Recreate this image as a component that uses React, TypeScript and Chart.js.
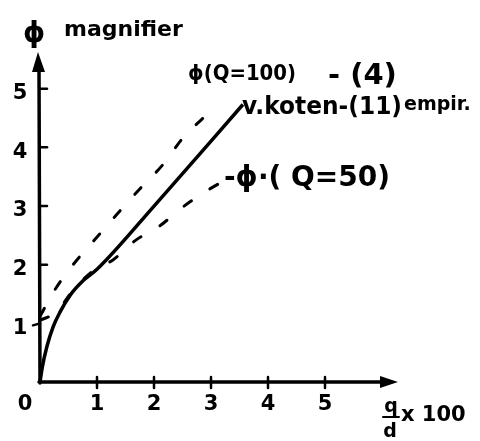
import React, { useEffect, useRef } from "react";
import { Chart, registerables } from "chart.js";

Chart.register(...registerables);

// q/d × 100 against the magnifier ϕ
const kotenX = [0, 0.04, 0.12, 0.23, 0.35, 0.53, 0.75, 1.0, 2.02, 3.56];
const kotenY = [0, 0.25, 0.6, 0.94, 1.19, 1.48, 1.72, 1.92, 3.02, 4.73];

const q100X = [0, 0.26, 0.58, 0.91, 1.35, 1.75, 2.16, 2.5, 2.93, 3.0];
const q100Y = [1.12, 1.57, 2.0, 2.37, 2.86, 3.29, 3.71, 4.15, 4.56, 4.62];

const q50X = [0, 0.3, 0.53, 0.75, 1.0, 1.28, 1.67, 2.1, 2.49, 2.86, 3.3];
const q50Y = [1.05, 1.2, 1.5, 1.74, 1.94, 2.08, 2.41, 2.66, 2.97, 3.22, 3.47];

const xTickValues = [0, 1, 2, 3, 4, 5];
const yTickValues = [1, 2, 3, 4, 5];

const toPoints = (xs: number[], ys: number[]) => xs.map((x, i) => ({ x, y: ys[i] }));

const INK = "#000";
const FONT = '"DejaVu Sans", sans-serif';

const sketchAxes = {
  id: "sketchAxes",
  afterDraw(chart: any) {
    const ctx: CanvasRenderingContext2D = chart.ctx;
    const xs = chart.scales.x;
    const ys = chart.scales.y;
    const ox = xs.getPixelForValue(0);
    const oy = ys.getPixelForValue(0);
    ctx.save();
    ctx.strokeStyle = INK;
    ctx.fillStyle = INK;
    ctx.lineCap = "round";

    // axes
    ctx.lineWidth = 3.5;
    ctx.beginPath();
    ctx.moveTo(ox, oy + 1);
    ctx.lineTo(ox - 1, 66);
    ctx.moveTo(ox - 1, oy);
    ctx.lineTo(388, oy);
    ctx.stroke();
    // arrow heads
    ctx.beginPath();
    ctx.moveTo(38, 52);
    ctx.lineTo(32, 72);
    ctx.lineTo(45, 72);
    ctx.closePath();
    ctx.fill();
    ctx.beginPath();
    ctx.moveTo(398, oy);
    ctx.lineTo(380, oy - 6);
    ctx.lineTo(380, oy + 6);
    ctx.closePath();
    ctx.fill();

    // tick marks
    ctx.lineWidth = 2.5;
    yTickValues.forEach((v) => {
      const py = ys.getPixelForValue(v);
      ctx.beginPath();
      if (v === 1) {
        ctx.moveTo(ox - 7, py + 2);
        ctx.lineTo(ox, py);
      } else {
        ctx.moveTo(ox, py);
        ctx.lineTo(ox + 7, py);
      }
      ctx.stroke();
    });
    xTickValues.slice(1).forEach((v) => {
      const px = xs.getPixelForValue(v);
      ctx.beginPath();
      ctx.moveTo(px, oy - 5);
      ctx.lineTo(px, oy + 6);
      ctx.stroke();
    });

    // tick labels
    ctx.font = `bold 21px ${FONT}`;
    ctx.textAlign = "center";
    ctx.textBaseline = "middle";
    yTickValues.forEach((v) => {
      ctx.fillText(String(v), 20, ys.getPixelForValue(v) + 5);
    });
    xTickValues.forEach((v) => {
      const px = xs.getPixelForValue(v) + (v === 0 ? -15 : 0);
      ctx.fillText(String(v), px, oy + 23);
    });

    // axis titles
    ctx.textAlign = "left";
    ctx.textBaseline = "alphabetic";
    ctx.font = `bold 28px ${FONT}`;
    ctx.fillText("ϕ", 23, 42);
    ctx.font = `bold 22px ${FONT}`;
    ctx.fillText("magnifier", 64, 36, 128);

    ctx.font = `bold 19px ${FONT}`;
    ctx.textAlign = "center";
    ctx.fillText("q", 391, 412);
    ctx.fillText("d", 390, 437);
    ctx.lineWidth = 2;
    ctx.beginPath();
    ctx.moveTo(383, 417);
    ctx.lineTo(399, 417);
    ctx.stroke();
    ctx.textAlign = "left";
    ctx.font = `bold 21px ${FONT}`;
    ctx.fillText("x 100", 401, 421, 70);

    // curve labels
    ctx.font = `bold 21px ${FONT}`;
    ctx.fillText("ϕ(Q=100)", 188, 80, 108);
    ctx.font = `bold 29px ${FONT}`;
    ctx.fillText("- (4)", 328, 84, 76);
    ctx.font = `bold 25px ${FONT}`;
    ctx.fillText("v.koten-(11)", 242, 114, 160);
    ctx.font = `bold 19px ${FONT}`;
    ctx.fillText("empir.", 404, 110, 75);
    ctx.font = `bold 28px ${FONT}`;
    ctx.fillText("-ϕ·( Q=50)", 224, 186, 166);

    ctx.restore();
  },
};

export default function App() {
  const canvasRef = useRef<HTMLCanvasElement | null>(null);

  useEffect(() => {
    if (!canvasRef.current) return;
    const chart = new Chart(canvasRef.current, {
      type: "line",
      data: {
        datasets: [
          {
            label: "v. koten (11) empir.",
            data: toPoints(kotenX, kotenY),
            borderColor: INK,
            borderWidth: 3.5,
            pointRadius: 0,
            cubicInterpolationMode: "monotone",
            fill: false,
          },
          {
            label: "ϕ (Q=100)",
            data: toPoints(q100X, q100Y),
            borderColor: INK,
            borderWidth: 3,
            borderDash: [9, 22],
            borderCapStyle: "round",
            pointRadius: 0,
            cubicInterpolationMode: "monotone",
            fill: false,
          },
          {
            label: "ϕ (Q=50)",
            data: toPoints(q50X, q50Y),
            borderColor: INK,
            borderWidth: 3,
            borderDash: [9, 22],
            borderCapStyle: "round",
            pointRadius: 0,
            cubicInterpolationMode: "monotone",
            fill: false,
          },
        ],
      },
      options: {
        responsive: false,
        animation: false,
        clip: false as any,
        layout: { padding: { left: 40, right: 41, top: 30, bottom: 59 } },
        plugins: { legend: { display: false }, tooltip: { enabled: false } },
        scales: {
          x: { type: "linear", min: 0, max: 7, display: false },
          y: { type: "linear", min: 0, max: 6, display: false },
        },
      },
      plugins: [sketchAxes],
    });
    return () => chart.destroy();
  }, []);

  return (
    <div style={{ position: "absolute", left: 0, top: 0, width: 480, height: 441, background: "#fff" }}>
      <canvas ref={canvasRef} width={480} height={441} style={{ display: "block" }} />
    </div>
  );
}
